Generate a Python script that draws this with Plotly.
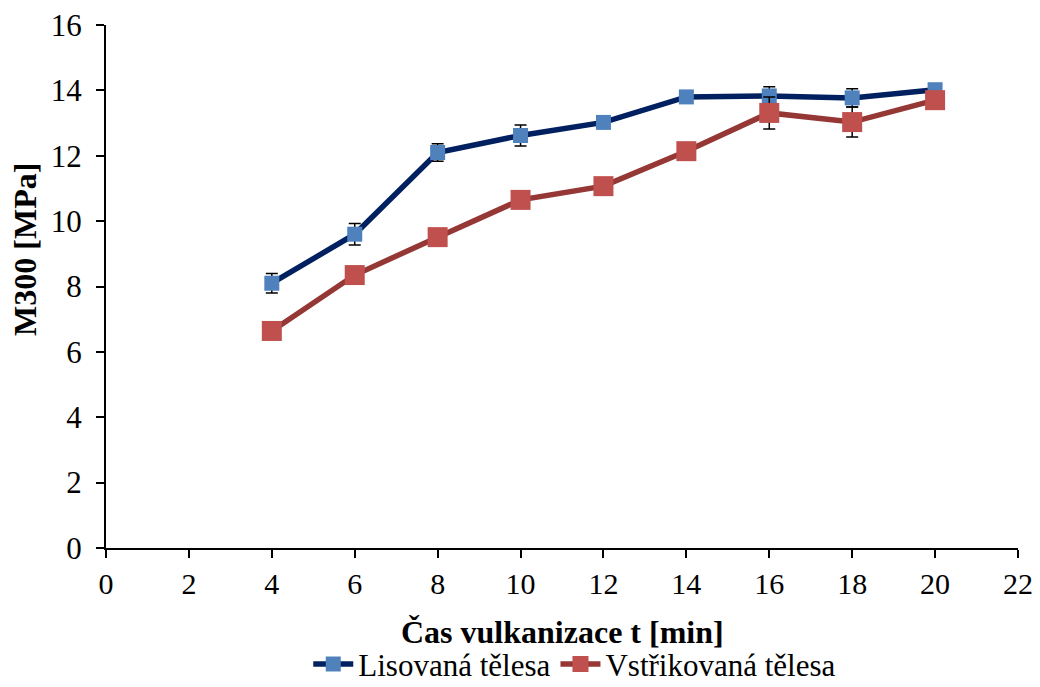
import plotly.graph_objects as go

time_min = [4, 6, 8, 10, 12, 14, 16, 18, 20]
lisovana = [8.1, 9.6, 12.1, 12.62, 13.02, 13.8, 13.83, 13.77, 14.02]
lisovana_err = [0.3, 0.33, 0.27, 0.32, 0.1, 0.15, 0.28, 0.28, 0.1]
vstrikovana = [6.64, 8.35, 9.51, 10.65, 11.07, 12.14, 13.31, 13.03, 13.7]
vstrikovana_err = [0.1, 0.1, 0.1, 0.1, 0.1, 0.1, 0.49, 0.46, 0.1]

x_ticks = list(range(0, 23, 2))
y_ticks = list(range(0, 17, 2))
x_title = "Čas vulkanizace t [min]"
y_title = "M300 [MPa]"

font_family = "Liberation Serif"

fig = go.Figure()
fig.add_trace(go.Scatter(
    x=time_min, y=lisovana, name="Lisovaná tělesa", mode="lines+markers",
    line=dict(color="#002060", width=5.5),
    marker=dict(symbol="square", size=15, color="#4F81BD"),
    error_y=dict(type="data", array=lisovana_err, visible=True,
                 color="black", thickness=1.5, width=6),
))
fig.add_trace(go.Scatter(
    x=time_min, y=vstrikovana, name="Vstřikovaná tělesa", mode="lines+markers",
    line=dict(color="#953735", width=5.5),
    marker=dict(symbol="square", size=20, color="#C0504D"),
    error_y=dict(type="data", array=vstrikovana_err, visible=True,
                 color="black", thickness=1.5, width=6),
))

fig.update_layout(
    width=1040, height=687,
    margin=dict(l=106, r=22, t=25, b=139),
    paper_bgcolor="white", plot_bgcolor="white",
    font=dict(family=font_family, size=30, color="black"),
    legend=dict(orientation="h", x=0.514, xanchor="center",
                yref="container", y=0.033, yanchor="middle",
                font=dict(size=31), traceorder="normal", itemwidth=40,
                bgcolor="rgba(0,0,0,0)"),
    showlegend=True,
)
fig.add_annotation(
    text=f"<b>{x_title}</b>", xref="paper", yref="paper", x=0.501, y=-0.1606,
    xanchor="center", yanchor="middle", showarrow=False, font=dict(size=32),
)
fig.add_annotation(
    text=f"<b>{y_title}</b>", xref="paper", yref="paper", x=-0.0888, y=0.57,
    xanchor="center", yanchor="middle", showarrow=False, textangle=-90,
    font=dict(size=32),
)
fig.update_xaxes(
    range=[0, 22], tickvals=x_ticks, ticktext=[str(v) for v in x_ticks],
    showgrid=False, zeroline=False, showline=True, linecolor="black", linewidth=2,
    ticks="outside", ticklen=8, tickwidth=2, tickcolor="black",
    tickfont=dict(size=30), automargin=False,
)
fig.update_yaxes(
    range=[0, 16], tickvals=y_ticks, ticktext=[str(v) for v in y_ticks],
    showgrid=False, zeroline=False, showline=True, linecolor="black", linewidth=2,
    ticks="outside", ticklen=8, tickwidth=2, tickcolor="black",
    tickfont=dict(size=31), automargin=False, ticklabelstandoff=8,
)

fig.write_html(
    "out.html",
    config={"responsive": False, "displayModeBar": False},
    post_script="document.body.style.margin='0';document.body.style.overflow='hidden';",
)
